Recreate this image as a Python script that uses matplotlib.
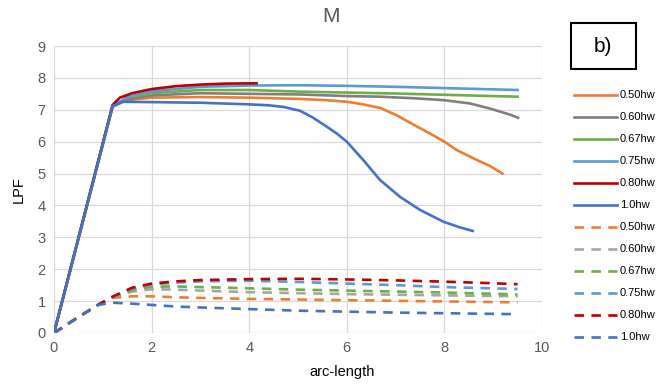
import matplotlib
matplotlib.use('Agg')
import matplotlib.pyplot as plt
from matplotlib.patches import Rectangle

# solid curves (LPF along arc-length)
X_050 = [0, 1.2, 1.5, 2.0, 3.0, 4.0, 5.04, 5.6, 6.0, 6.3, 6.68, 7.02, 7.36, 7.7, 8.0, 8.25, 8.59, 8.93, 9.19]
Y_050 = [0, 7.1, 7.3, 7.38, 7.4, 7.38, 7.34, 7.3, 7.25, 7.18, 7.06, 6.83, 6.54, 6.26, 6.0, 5.74, 5.48, 5.24, 5.0]
X_060 = [0, 1.2, 1.5, 2.0, 3.0, 4.0, 5.04, 6.0, 6.68, 7.4, 8.0, 8.52, 8.93, 9.34, 9.51]
Y_060 = [0, 7.1, 7.33, 7.45, 7.52, 7.5, 7.48, 7.43, 7.41, 7.36, 7.3, 7.2, 7.04, 6.85, 6.75]
X_067 = [0, 1.2, 1.5, 2.0, 3.0, 4.0, 5.0, 6.0, 7.0, 8.0, 9.0, 9.5]
Y_067 = [0, 7.1, 7.38, 7.52, 7.62, 7.62, 7.57, 7.54, 7.51, 7.47, 7.43, 7.41]
X_075 = [0, 1.2, 1.5, 2.0, 3.0, 4.0, 5.0, 6.0, 7.0, 8.0, 9.0, 9.5]
Y_075 = [0, 7.1, 7.4, 7.58, 7.72, 7.76, 7.77, 7.75, 7.72, 7.68, 7.64, 7.62]
X_080 = [0, 1.2, 1.35, 1.6, 2.0, 2.5, 3.0, 3.5, 4.15]
Y_080 = [0, 7.15, 7.38, 7.52, 7.65, 7.74, 7.79, 7.82, 7.83]
X_100 = [0, 1.2, 1.4, 2.0, 3.0, 4.0, 4.4, 4.7, 5.04, 5.3, 5.59, 5.8, 6.0, 6.34, 6.68, 7.09, 7.5, 7.98, 8.3, 8.58]
Y_100 = [0, 7.12, 7.25, 7.24, 7.22, 7.17, 7.14, 7.09, 6.97, 6.76, 6.47, 6.25, 6.0, 5.42, 4.8, 4.27, 3.86, 3.49, 3.32, 3.2]

# dashed curves
XD = [0, 0.5, 0.9, 1.2, 1.6, 2.0, 2.5, 3.0, 4.0, 5.0, 6.0, 7.0, 8.0, 9.0, 9.5]
YD_050 = [0, 0.5, 0.88, 1.1, 1.15, 1.15, 1.12, 1.1, 1.07, 1.05, 1.03, 1.01, 0.99, 0.97, 0.96]
YD_060 = [0, 0.5, 0.88, 1.12, 1.3, 1.37, 1.36, 1.33, 1.28, 1.25, 1.22, 1.2, 1.18, 1.16, 1.15]
YD_067 = [0, 0.5, 0.88, 1.12, 1.35, 1.45, 1.46, 1.44, 1.4, 1.36, 1.33, 1.3, 1.27, 1.23, 1.21]
YD_075 = [0, 0.5, 0.88, 1.13, 1.4, 1.52, 1.58, 1.62, 1.64, 1.6, 1.55, 1.5, 1.44, 1.4, 1.38]
YD_080 = [0, 0.5, 0.88, 1.14, 1.42, 1.55, 1.62, 1.66, 1.69, 1.7, 1.68, 1.65, 1.61, 1.56, 1.53]
YD_100 = [0, 0.5, 0.88, 0.95, 0.92, 0.88, 0.83, 0.8, 0.75, 0.7, 0.67, 0.64, 0.62, 0.6, 0.59]

LABELS = ['0.50hw', '0.60hw', '0.67hw', '0.75hw', '0.80hw', '1.0hw']
SOLID_COLORS = ['#ED7D31', '#7F7F7F', '#70AD47', '#5B9BD5', '#C00000', '#4472C4']
DASH_COLORS = ['#ED7D31', '#A5A5A5', '#70AD47', '#5B9BD5', '#C00000', '#4472C4']
TEXT = '#595959'

plt.rcParams['font.family'] = ['Liberation Sans', 'DejaVu Sans']

fig = plt.figure(figsize=(6.61, 3.86), dpi=100)
ax = fig.add_axes([54 / 661, 1 - 333 / 386, 488 / 661, 287 / 386])

solid = [(X_050, Y_050), (X_060, Y_060), (X_067, Y_067),
         (X_075, Y_075), (X_080, Y_080), (X_100, Y_100)]
dashed = [YD_050, YD_060, YD_067, YD_075, YD_080, YD_100]

handles = []
for (x, y), c, lab in zip(solid, SOLID_COLORS, LABELS):
    h, = ax.plot(x, y, color=c, lw=1.9, label=lab, zorder=3,
                 solid_joinstyle='round')
    handles.append(h)
for y, c, lab in zip(dashed, DASH_COLORS, LABELS):
    h, = ax.plot(XD, y, color=c, lw=1.9, ls=(0, (3.6, 2.8)), label=lab, zorder=3)
    handles.append(h)

ax.set_xlim(0, 10)
ax.set_ylim(0, 9)
ax.set_xticks(range(0, 11, 2))
ax.set_yticks(range(0, 10))
ax.grid(color='#D9D9D9', lw=0.9, zorder=0)
for sp in ax.spines.values():
    sp.set_visible(False)
ax.tick_params(length=0, colors=TEXT, labelsize=10.5, pad=6)

fig.text(0.5, 1 - 16 / 386, 'M', ha='center', va='center', color=TEXT, fontsize=15)
fig.text(342 / 661, 1 - 372 / 386, 'arc-length', ha='center', va='center', fontsize=10.5)
fig.text(19 / 661, 1 - 190 / 386, 'LPF', ha='center', va='center', rotation=90, fontsize=10.5)

# "b)" box
fig.patches.append(Rectangle((571 / 661, 1 - 69 / 386), 65 / 661, 46 / 386,
                             transform=fig.transFigure, fc='white', ec='black', lw=1.5))
fig.text(603 / 661, 1 - 46 / 386, 'b)', ha='center', va='center', fontsize=15)

fig.legend(handles=handles, loc='upper left', bbox_to_anchor=(570 / 661, 1 - 86 / 386),
           frameon=False, fontsize=8, handlelength=3.8, handletextpad=0.27,
           labelspacing=1.08, borderaxespad=0)

fig.savefig('out.png', dpi=100)
